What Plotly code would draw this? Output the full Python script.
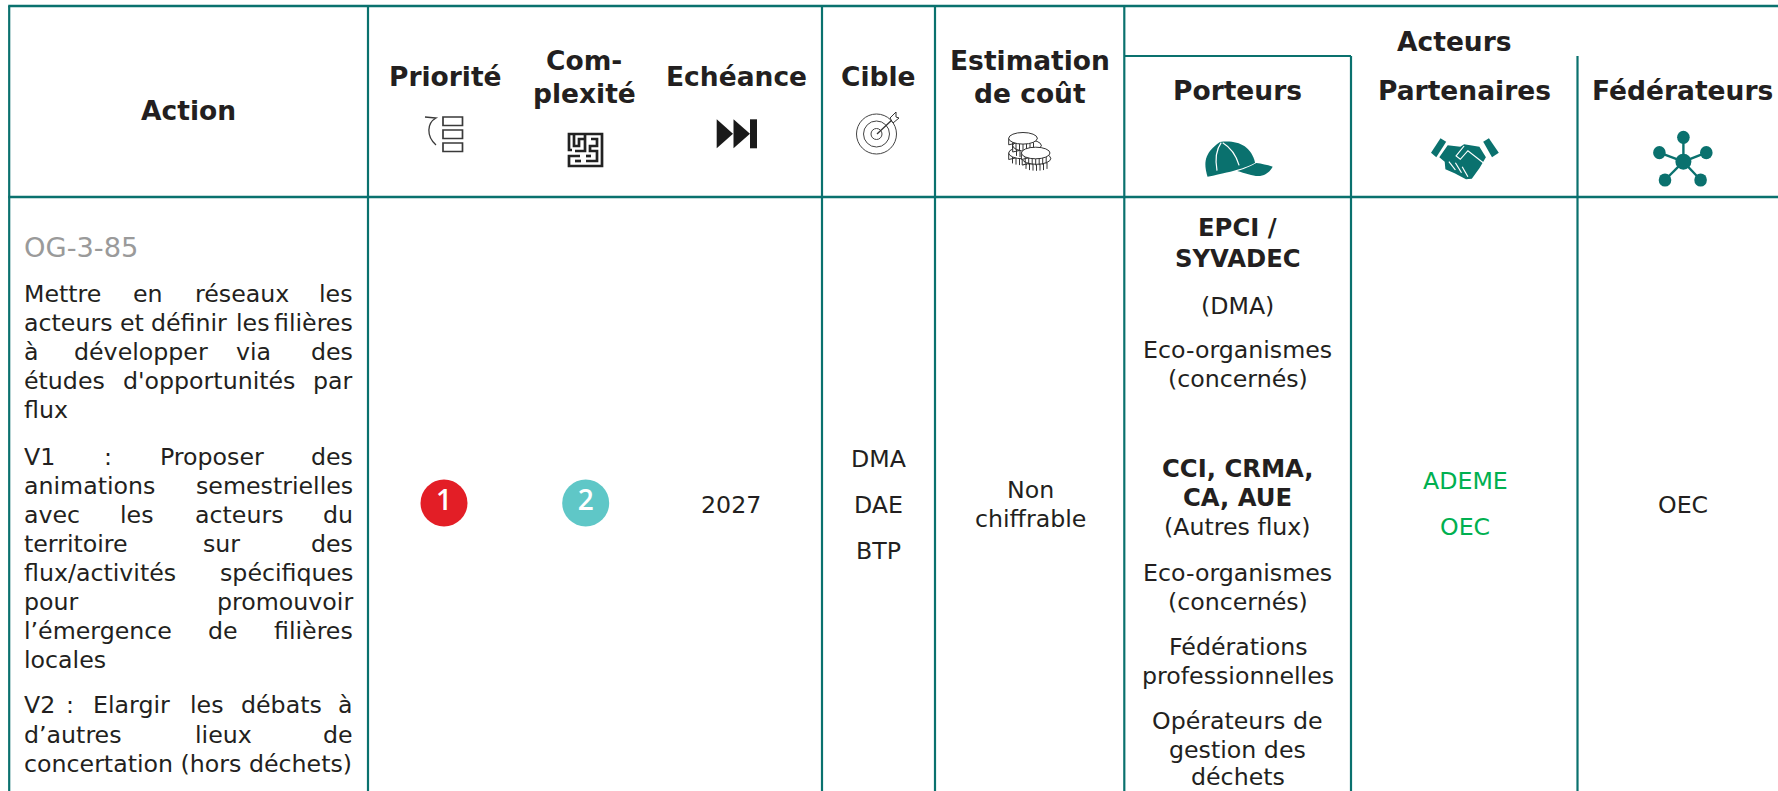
import plotly.graph_objects as go

# ---------- table content ----------
HEADERS = ["Action", "Priorité", "Com-", "plexité", "Echéance", "Cible", "Estimation", "de coût",
           "Acteurs", "Porteurs", "Partenaires", "Fédérateurs"]
ACTION_ID = "OG-3-85"
ACTION_LINES = [
    ["Mettre", "en", "réseaux", "les"],
    ["acteurs", "et", "définir", "les", "filières"],
    ["à", "développer", "via", "des"],
    ["études", "d'opportunités", "par"],
    ["flux"],
    ["V1", ":", "Proposer", "des"],
    ["animations", "semestrielles"],
    ["avec", "les", "acteurs", "du"],
    ["territoire", "sur", "des"],
    ["flux/activités", "spécifiques"],
    ["pour", "promouvoir"],
    ["l’émergence", "de", "filières"],
    ["locales"],
    ["V2", ":", "Elargir", "les", "débats", "à"],
    ["d’autres", "lieux", "de"],
    ["concertation (hors déchets)"],
]
PRIORITE = [1]
COMPLEXITE = [2]
ECHEANCE = ["2027"]
CIBLES = ["DMA", "DAE", "BTP"]
COUT = ["Non", "chiffrable"]
PORTEURS = ["EPCI /", "SYVADEC", "(DMA)", "Eco-organismes", "(concernés)", "CCI, CRMA,", "CA, AUE",
            "(Autres flux)", "Eco-organismes", "(concernés)", "Fédérations", "professionnelles",
            "Opérateurs de", "gestion des", "déchets"]
PORTEURS_BOLD = [True, True, False, False, False, True, True, False, False, False, False, False, False, False, False]
PARTENAIRES = ["ADEME", "OEC"]
FEDERATEURS = ["OEC"]

# ---------- layout (pixels) ----------
W, H = 1778, 791
TEAL = "#0A716E"
INK = "#231F20"
GREEN = "#00B050"
GREY = "#9A9A9A"
FONT = "DejaVu Sans"
SIZE = 23.7
BSIZE = 24.3
HSIZE = 26.5

COL_X = [9.2, 368, 822, 935, 1124.3, 1351, 1577.5]
Y_TOP, Y_SUB, Y_HEAD = 6, 56, 197

HEAD_X = [188, 445, 584, 584, 736.5, 878, 1030, 1030, 1454, 1237.5, 1464, 1682]
HEAD_BASE = [120, 85.7, 69.5, 102.7, 85.7, 85.7, 70, 102.7, 50.3, 99.3, 99.3, 99.3]

ID_BASE = 256.7
ACTION_BASE = [301.7, 330.7, 360, 389, 418, 465, 494, 522.7, 551.7, 581, 610, 639, 668, 713, 742.7, 771.7]
ACTION_L, ACTION_R = 24, 353
# left edge of each word; the last word of a justified line is set flush right
ACTION_WORD_X = [
    [24, 133, 195, None],
    [24, 120, 151, 236, None],
    [24, 74, 236, None],
    [24, 123, None],
    [24],
    [24, 104, 160, None],
    [24, None],
    [24, 120, 195, None],
    [24, 203, None],
    [24, None],
    [24, None],
    [24, 208, None],
    [24],
    [24, 66, 93, 190, 241, None],
    [24, 195, None],
    [24],
]
CIBLE_BASE = [467, 513, 559]
COUT_BASE = [498, 527]
PORT_BASE = [236, 267, 314.5, 357.7, 386.7, 476.7, 505.7, 535, 581, 610, 655, 684, 729, 757.7, 785]
PART_BASE = [489, 535]
ROW_BASE = 513

shapes, ann = [], []


def vline(x, y0, y1, w=2.2):
    shapes.append(dict(type="line", x0=x, x1=x, y0=y0, y1=y1, line=dict(color=TEAL, width=w), layer="above"))


def hline(y, x0, x1, w=2):
    shapes.append(dict(type="line", x0=x0, x1=x1, y0=y, y1=y, line=dict(color=TEAL, width=w), layer="above"))


def text(s, x, base, size=SIZE, color=INK, bold=False, anchor="center", family=FONT):
    ann.append(dict(
        x=x, y=base - 0.346 * size, text=f"<b>{s}</b>" if bold else s, showarrow=False,
        xanchor=anchor, yanchor="middle", xref="x", yref="y", borderpad=0, borderwidth=0,
        font=dict(family=family, size=size, color=color)))


def path(d, fill=None, line=None, w=1.0):
    shapes.append(dict(type="path", path=d, fillcolor=fill if fill else "rgba(0,0,0,0)",
                       line=dict(color=line if line else "rgba(0,0,0,0)", width=w if line else 0),
                       layer="above"))


def ellipse(cx, cy, rx, ry, fill=None, line=None, w=1.0):
    shapes.append(dict(type="circle", x0=cx - rx, x1=cx + rx, y0=cy - ry, y1=cy + ry,
                       fillcolor=fill if fill else "rgba(0,0,0,0)",
                       line=dict(color=line if line else "rgba(0,0,0,0)", width=w if line else 0),
                       layer="above"))


def poly(pts, fn=lambda p: p):
    q = [fn(p) for p in pts]
    return "M" + " L".join(f"{a:.1f},{b:.1f}" for a, b in q) + " Z"


def open_poly(pts):
    return "M" + " L".join(f"{a:.1f},{b:.1f}" for a, b in pts)


# ---------- grid ----------
hline(Y_TOP, COL_X[0] - 1, W, 2.5)
hline(Y_HEAD, COL_X[0] - 1, W, 2.5)
hline(Y_SUB, COL_X[4], COL_X[5], 2)
for x in COL_X[:5]:
    vline(x, Y_TOP, H)
for x in COL_X[5:]:
    vline(x, Y_SUB, H)

# ---------- text ----------
for s, x, b in zip(HEADERS, HEAD_X, HEAD_BASE):
    text(s, x, b, size=HSIZE, bold=True)
text(ACTION_ID, ACTION_L, ID_BASE, size=27.3, color=GREY, anchor="left")
for words, xs, b in zip(ACTION_LINES, ACTION_WORD_X, ACTION_BASE):
    for w_, x_ in zip(words, xs):
        if x_ is None:
            text(w_, ACTION_R, b, anchor="right")
        else:
            text(w_, x_, b, anchor="left")
text(ECHEANCE[0], 731, ROW_BASE)
for s, b in zip(CIBLES, CIBLE_BASE):
    text(s, 878, b)
for s, b in zip(COUT, COUT_BASE):
    text(s, 1030, b)
for s, b, bd in zip(PORTEURS, PORT_BASE, PORTEURS_BOLD):
    text(s, 1237.5, b, bold=bd, size=BSIZE if bd else SIZE)
for s, b in zip(PARTENAIRES, PART_BASE):
    text(s, 1465, b, color=GREEN)
text(FEDERATEURS[0], 1683, ROW_BASE)

# ---------- header icons ----------
DARK = "#3A3A3A"
# priority
for y0 in (117, 130, 143):
    shapes.append(dict(type="rect", x0=443, x1=462.5, y0=y0, y1=y0 + 8.5, line=dict(color=DARK, width=1.7), layer="above"))
path("M436,145 C426,136 427,123 436,118 L425,117", line=DARK, w=1.3)

# complexity (maze)
maze = [
    [(572, 150), (569, 150), (569, 134), (602, 134), (602, 166), (569, 166), (569, 156), (580, 156)],
    [(574, 134), (574, 146), (579, 146), (579, 139), (586, 139)],
    [(585, 134), (585, 151), (575, 151)],
    [(591, 139), (597, 139), (597, 146), (590, 146), (590, 151), (597, 151), (597, 161), (586, 161)],
    [(575, 161), (581, 161)],
    [(586, 156), (591, 156)],
]
for seg in maze:
    path(open_poly(seg), line="#222222", w=2.7)

# deadline (fast-forward)
path(poly([(716.7, 119.3), (733, 133.8), (716.7, 148.3)]), fill="#1A1A1A")
path(poly([(733.5, 119.3), (750, 133.8), (733.5, 148.3)]), fill="#1A1A1A")
shapes.append(dict(type="rect", x0=750, x1=757, y0=119.3, y1=148.3, fillcolor="#1A1A1A", line=dict(width=0), layer="above"))

# target
for r in (20, 13, 5.5):
    ellipse(876.5, 134, r, r, line="#444444", w=1.0)
path("M877,134 L893,119", line="#333333", w=1.3)
path(poly([(890, 118), (896, 112), (896, 117), (899, 118), (893, 123)]), fill="#FFFFFF", line="#333333", w=1.0)


# cost (coins)
def coin(cx, ytop, rx=14.3, ry=5.8, side=6.5):
    path(f"M{cx-rx},{ytop} L{cx-rx},{ytop+side} A{rx},{ry} 0 0 0 {cx+rx},{ytop+side} L{cx+rx},{ytop} Z",
         fill="#FFFFFF", line="#333333", w=1.0)
    for dx in (-10.5, -7, -3.5, 0, 3.5, 7, 10.5):
        y_edge = ytop + ry * (1 - (dx / rx) ** 2) ** 0.5
        path(f"M{cx+dx},{y_edge:.1f} L{cx+dx},{y_edge+side:.1f}", line="#333333", w=1.0)
    ellipse(cx, ytop, rx, ry, fill="#FFFFFF", line="#333333", w=1.0)


for c in ((1023, 153), (1027, 145.5), (1023, 138.3), (1036.5, 158.5), (1035.7, 153)):
    coin(*c)


# teal icons: traced on a local grid
def zx(v):
    return 1180 + v / 2.622


def zy(v):
    return 120 + v / 3


def z(p):
    return zx(p[0]), zy(p[1])


def curve(pts, closed=True):
    s = f"M{zx(pts[0][0]):.1f},{zy(pts[0][1]):.1f}"
    for i in range(1, len(pts), 3):
        a, b, c = pts[i:i + 3]
        s += f" C{zx(a[0]):.1f},{zy(a[1]):.1f} {zx(b[0]):.1f},{zy(b[1]):.1f} {zx(c[0]):.1f},{zy(c[1]):.1f}"
    return s + (" Z" if closed else "")


# cap
path(curve([(72, 170), (62, 130), (62, 100), (105, 66), (150, 60), (185, 75), (197, 128),
            (180, 140), (150, 152), (72, 170)]), fill=TEAL)
path(curve([(150, 153), (175, 145), (190, 135), (200, 129), (215, 131), (230, 135), (243, 140),
            (235, 158), (220, 168), (205, 168), (190, 168), (170, 160), (150, 153)]), fill=TEAL)
path(curve([(97, 152), (92, 120), (94, 90), (108, 68)], closed=False), line="#FFFFFF", w=1.2)
path(curve([(155, 136), (147, 105), (132, 82), (112, 68)], closed=False), line="#FFFFFF", w=1.2)

# handshake
path(poly([(683, 55), (698, 65), (672, 112), (658, 98)], z), fill=TEAL)
path(poly([(810, 55), (836, 98), (818, 112), (795, 65)], z), fill=TEAL)
path(poly([(702, 76), (735, 80), (745, 73), (785, 80), (802, 112), (785, 145), (765, 176), (750, 178),
           (720, 160), (696, 148), (694, 125), (680, 112)], z), fill=TEAL)
path(open_poly([z(p) for p in [(745, 78), (724, 108), (735, 118), (755, 92), (795, 128)]]), line="#FFFFFF", w=1.2)
for a, b in (((705, 125), (722, 150)), ((722, 128), (738, 158)), ((740, 140), (755, 170))):
    path(open_poly([z(a), z(b)]), line="#FFFFFF", w=1.2)

# federators (network)
NC = (1683.4, 161.7)
NODES = [(1683.4, 137.3), (1659.4, 152.7), (1706.3, 152.7), (1665, 180), (1700.6, 180)]
for nx, ny in NODES:
    path(f"M{NC[0]},{NC[1]} L{nx},{ny}", line=TEAL, w=2.4)
    ellipse(nx, ny, 6.3, 6.6, fill=TEAL)
ellipse(NC[0], NC[1], 8, 8, fill=TEAL)

# ---------- figure ----------
fig = go.Figure()
BADGE_X = {1: 444, 2: 585.7}
BADGE_Y = 503
fig.add_trace(go.Scatter(
    x=[BADGE_X[1]], y=[BADGE_Y], mode="markers+text", text=[str(v) for v in PRIORITE],
    textposition="middle center", textfont=dict(family="Open Sans", size=28, color="#FFFFFF", weight=600),
    marker=dict(size=47, color="#E31E26"), hoverinfo="skip", showlegend=False))
fig.add_trace(go.Scatter(
    x=[BADGE_X[2]], y=[BADGE_Y], mode="markers+text", text=[str(v) for v in COMPLEXITE],
    textposition="middle center", textfont=dict(family="Open Sans", size=28, color="#FFFFFF", weight=600),
    marker=dict(size=47, color="#5FC7C7"), hoverinfo="skip", showlegend=False))

fig.update_layout(
    width=W, height=H, margin=dict(l=0, r=0, t=0, b=0), paper_bgcolor="#FFFFFF", plot_bgcolor="#FFFFFF",
    xaxis=dict(range=[0, W], visible=False, fixedrange=True),
    yaxis=dict(range=[H, 0], visible=False, fixedrange=True),
    shapes=shapes, annotations=ann, showlegend=False)
fig.write_html("out.html", config={"displayModeBar": False},
               post_script="document.body.style.margin='0';document.body.style.overflow='hidden';")
